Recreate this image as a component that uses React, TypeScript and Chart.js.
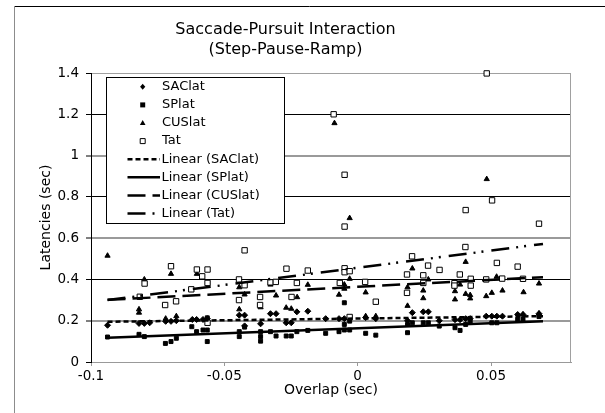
import { useEffect, useRef } from 'react';
import { Chart, registerables } from 'chart.js';

Chart.register(...registerables);

const FONT = 'DejaVu Sans';
const TITLE_LINES = ['Saccade-Pursuit Interaction', '(Step-Pause-Ramp)'];
const X_TITLE = 'Overlap (sec)';
const Y_TITLE = 'Latencies (sec)';
const SERIES_NAMES = ['SAClat', 'SPlat', 'CUSlat', 'Tat'];

const X_MIN = -0.1;
const X_MAX = 0.08;
const X_STEP = 0.05;
const Y_MIN = 0;
const Y_MAX = 1.4;
const Y_STEP = 0.2;

// [overlap, latency]
const SACLAT: [number, number][] = [
  [-0.0938, 0.178], [-0.082, 0.187], [-0.08, 0.187], [-0.078, 0.19], [-0.072, 0.197], [-0.07, 0.197],
  [-0.068, 0.2], [-0.062, 0.206], [-0.0604, 0.206], [-0.058, 0.206], [-0.0564, 0.21], [-0.0444, 0.227],
  [-0.0424, 0.227], [-0.0424, 0.175], [-0.0364, 0.185], [-0.0327, 0.234], [-0.0306, 0.234], [-0.0268, 0.19],
  [-0.0249, 0.19], [-0.0228, 0.243], [-0.0187, 0.246], [-0.012, 0.21], [-0.007, 0.21], [-0.005, 0.21],
  [0.003, 0.215], [0.0068, 0.21], [0.0187, 0.2], [0.0205, 0.239], [0.0246, 0.243], [0.0265, 0.243],
  [0.0306, 0.2], [0.0365, 0.205], [0.0384, 0.205], [0.0405, 0.21], [0.0422, 0.21], [0.0482, 0.222],
  [0.0503, 0.222], [0.0522, 0.222], [0.0543, 0.222], [0.06, 0.23], [0.062, 0.23], [0.068, 0.234],
];

const SPLAT: [number, number][] = [
  [-0.0938, 0.121], [-0.082, 0.134], [-0.08, 0.123], [-0.0721, 0.09], [-0.07, 0.099], [-0.068, 0.115],
  [-0.0622, 0.171], [-0.0604, 0.147], [-0.058, 0.155], [-0.0564, 0.155], [-0.0564, 0.099], [-0.0564, 0.214],
  [-0.0444, 0.147], [-0.0444, 0.123], [-0.0424, 0.169], [-0.0364, 0.147], [-0.0364, 0.123], [-0.0364, 0.101],
  [-0.0327, 0.147], [-0.0306, 0.126], [-0.0268, 0.126], [-0.0249, 0.126], [-0.0228, 0.147], [-0.0187, 0.153],
  [-0.012, 0.139], [-0.007, 0.147], [-0.005, 0.155], [-0.003, 0.155], [-0.005, 0.182], [-0.003, 0.198],
  [-0.005, 0.287], [0.003, 0.139], [0.0068, 0.13], [0.0187, 0.182], [0.0187, 0.142], [0.0205, 0.19],
  [0.0246, 0.19], [0.0265, 0.19], [0.0306, 0.174], [0.0365, 0.166], [0.0384, 0.153], [0.0405, 0.182],
  [0.0422, 0.195], [0.0503, 0.19], [0.0522, 0.19], [0.06, 0.206], [0.062, 0.206], [0.068, 0.22],
];

const CUSLAT: [number, number][] = [
  [-0.0938, 0.515], [-0.082, 0.255], [-0.082, 0.239], [-0.08, 0.4], [-0.072, 0.21], [-0.07, 0.427],
  [-0.068, 0.222], [-0.0603, 0.427], [-0.0444, 0.362], [-0.0444, 0.255], [-0.0424, 0.327], [-0.0364, 0.265],
  [-0.0327, 0.375], [-0.0306, 0.322], [-0.0268, 0.263], [-0.0249, 0.258], [-0.0227, 0.314], [-0.0187, 0.374],
  [-0.0087, 1.157], [-0.007, 0.326], [-0.005, 0.375], [-0.005, 0.355], [-0.003, 0.403], [-0.003, 0.697],
  [0.003, 0.337], [0.003, 0.222], [0.0068, 0.222], [0.0187, 0.362], [0.0187, 0.272], [0.0205, 0.453],
  [0.0246, 0.346], [0.0246, 0.309], [0.0265, 0.4], [0.0365, 0.343], [0.0365, 0.303], [0.0384, 0.375],
  [0.0405, 0.485], [0.0405, 0.33], [0.0422, 0.324], [0.0422, 0.308], [0.0482, 0.319], [0.0484, 0.886],
  [0.0503, 0.335], [0.0521, 0.413], [0.0543, 0.346], [0.0622, 0.338], [0.062, 0.23], [0.068, 0.38],
  [0.068, 0.235],
];

const TAT: [number, number][] = [
  [-0.0817, 0.316], [-0.0799, 0.38], [-0.0722, 0.276], [-0.07, 0.464], [-0.0681, 0.294], [-0.0624, 0.352],
  [-0.0603, 0.448], [-0.0583, 0.415], [-0.0563, 0.448], [-0.0563, 0.383], [-0.0563, 0.19], [-0.0445, 0.4],
  [-0.0445, 0.3], [-0.0424, 0.541], [-0.0424, 0.372], [-0.0366, 0.315], [-0.0366, 0.276], [-0.0327, 0.386],
  [-0.0307, 0.388], [-0.0267, 0.452], [-0.0248, 0.315], [-0.0228, 0.383], [-0.0187, 0.443], [-0.009, 1.2],
  [-0.0067, 0.383], [-0.0049, 0.907], [-0.0049, 0.656], [-0.0049, 0.454], [-0.0049, 0.435], [-0.003, 0.44],
  [-0.003, 0.218], [0.0028, 0.388], [0.0068, 0.292], [0.0185, 0.424], [0.0185, 0.335], [0.0204, 0.512],
  [0.0246, 0.42], [0.0246, 0.383], [0.0264, 0.467], [0.0307, 0.446], [0.0363, 0.382], [0.0363, 0.37],
  [0.0383, 0.424], [0.0404, 0.557], [0.0405, 0.736], [0.0424, 0.403], [0.0424, 0.37], [0.0482, 0.4],
  [0.0484, 1.398], [0.0504, 0.783], [0.0522, 0.48], [0.0542, 0.404], [0.06, 0.462], [0.062, 0.403],
  [0.068, 0.67],
];

// Linear trendlines: value at the first and last overlap
const TREND_X = [-0.0938, 0.0695];
const SACLAT_TREND = [0.195, 0.222];
const SPLAT_TREND = [0.118, 0.198];
const CUSLAT_TREND = [0.301, 0.411];
const TAT_TREND = [0.3, 0.572];

const TREND_DASHES: number[][] = [[5, 3], [], [18, 7], [18, 7, 2, 6, 2, 8]];

const fmt = (v: number) => String(Number(Number(v).toFixed(3)));

function drawMarker(ctx: CanvasRenderingContext2D, kind: string, x: number, y: number) {
  ctx.save();
  ctx.fillStyle = '#000';
  ctx.strokeStyle = '#000';
  ctx.lineWidth = 1;
  ctx.beginPath();
  if (kind === 'diamond') {
    ctx.moveTo(x, y - 3);
    ctx.lineTo(x + 2.6, y);
    ctx.lineTo(x, y + 3);
    ctx.lineTo(x - 2.6, y);
    ctx.closePath();
    ctx.fill();
  } else if (kind === 'square') {
    ctx.rect(x - 2.5, y - 2.5, 5, 5);
    ctx.fill();
  } else if (kind === 'triangle') {
    ctx.moveTo(x, y - 3);
    ctx.lineTo(x + 2.8, y + 2);
    ctx.lineTo(x - 2.8, y + 2);
    ctx.closePath();
    ctx.fill();
  } else {
    ctx.fillStyle = '#fff';
    ctx.rect(x - 2.5, y - 2.5, 5, 5);
    ctx.fill();
    ctx.stroke();
  }
  ctx.restore();
}

const framePlugin = {
  id: 'frame',
  beforeDraw(chart: any) {
    const ctx = chart.ctx as CanvasRenderingContext2D;
    ctx.save();
    ctx.fillStyle = '#fff';
    ctx.fillRect(0, 0, chart.width, chart.height);
    ctx.lineWidth = 1;
    ctx.strokeStyle = '#000';
    ctx.beginPath();
    ctx.moveTo(14, 6.5);
    ctx.lineTo(chart.width, 6.5);
    ctx.stroke();
    ctx.strokeStyle = '#8c8c8c';
    ctx.beginPath();
    ctx.moveTo(14.5, 6);
    ctx.lineTo(14.5, chart.height);
    ctx.stroke();
    ctx.restore();
  },
  afterDraw(chart: any) {
    const ctx = chart.ctx as CanvasRenderingContext2D;
    const a = chart.chartArea;
    ctx.save();
    // plot-area right edge
    ctx.strokeStyle = '#a0a0a0';
    ctx.lineWidth = 1;
    ctx.beginPath();
    ctx.moveTo(a.right - 0.5, a.top);
    ctx.lineTo(a.right - 0.5, a.bottom);
    ctx.stroke();

    // boxed legend
    const lx = 106.5, ly = 77.5, lw = 178, lh = 146;
    ctx.fillStyle = '#fff';
    ctx.fillRect(lx, ly, lw, lh);
    ctx.strokeStyle = '#000';
    ctx.strokeRect(lx, ly, lw, lh);
    const markers = ['diamond', 'square', 'triangle', 'hollow'];
    const rowH = 18.1;
    const y0 = 86.8;
    ctx.font = `13px "${FONT}"`;
    ctx.textBaseline = 'middle';
    ctx.textAlign = 'left';
    ctx.fillStyle = '#000';
    SERIES_NAMES.forEach((name, i) => {
      const y = y0 + i * rowH;
      drawMarker(ctx, markers[i], 142.7, y);
      ctx.fillStyle = '#000';
      ctx.fillText(name, 162, y);
    });
    SERIES_NAMES.forEach((name, i) => {
      const y = y0 + (i + 4) * rowH;
      ctx.save();
      ctx.lineWidth = 2.5;
      ctx.strokeStyle = '#000';
      ctx.setLineDash(TREND_DASHES[i]);
      ctx.beginPath();
      ctx.moveTo(127.5, y);
      ctx.lineTo(160, y);
      ctx.stroke();
      ctx.restore();
      ctx.fillStyle = '#000';
      ctx.fillText(`Linear (${name})`, 161.5, y);
    });
    ctx.restore();
  },
};

const pts = (arr: [number, number][]) => arr.map(([x, y]) => ({ x, y }));
const trend = (ys: number[]) => TREND_X.map((x, i) => ({ x, y: ys[i] }));

export default function App() {
  const ref = useRef<HTMLCanvasElement | null>(null);

  useEffect(() => {
    if (!ref.current) return;
    document.body.style.margin = '0';
    Chart.defaults.font.family = FONT;
    Chart.defaults.color = '#000';

    const trendSets = [SACLAT_TREND, SPLAT_TREND, CUSLAT_TREND, TAT_TREND].map((ys, i) => ({
      label: `Linear (${SERIES_NAMES[i]})`,
      data: trend(ys),
      showLine: true,
      pointRadius: 0,
      borderColor: '#000',
      backgroundColor: '#000',
      borderWidth: 2.5,
      borderDash: TREND_DASHES[i],
      borderCapStyle: 'butt',
      fill: false,
      order: 1 + i,
    }));

    const chart = new Chart(ref.current, {
      type: 'scatter',
      data: {
        datasets: [
          {
            label: SERIES_NAMES[0], data: pts(SACLAT), pointStyle: 'rectRot', pointRadius: 3,
            backgroundColor: '#000', borderColor: '#000', borderWidth: 1, order: 9, clip: false,
          },
          {
            label: SERIES_NAMES[1], data: pts(SPLAT), pointStyle: 'rect', pointRadius: 2.8,
            backgroundColor: '#000', borderColor: '#000', borderWidth: 1, order: 8, clip: false,
          },
          {
            label: SERIES_NAMES[2], data: pts(CUSLAT), pointStyle: 'triangle', pointRadius: 3,
            backgroundColor: '#000', borderColor: '#000', borderWidth: 1, order: 7, clip: false,
          },
          {
            label: SERIES_NAMES[3], data: pts(TAT), pointStyle: 'rect', pointRadius: 3.8,
            backgroundColor: '#fff', borderColor: '#000', borderWidth: 1, order: 6, clip: false,
          },
          ...trendSets,
        ] as any,
      },
      options: {
        responsive: false,
        animation: false,
        devicePixelRatio: 1,
        layout: { padding: { left: 0, right: 34, top: 0, bottom: 0 } },
        plugins: {
          legend: { display: false },
          tooltip: { enabled: false },
          title: {
            display: true,
            text: TITLE_LINES,
            color: '#000',
            font: { family: FONT, size: 16, weight: 'normal', lineHeight: 1.25 },
            padding: { top: 20, bottom: 13 },
          },
        },
        scales: {
          x: {
            type: 'linear',
            min: X_MIN,
            max: X_MAX,
            afterFit: (s: any) => { s.height = 51; },
            ticks: {
              stepSize: X_STEP,
              includeBounds: false,
              padding: 2,
              color: '#000',
              font: { family: FONT, size: 13.5 },
              callback: (v: any) => fmt(v),
              maxRotation: 0,
            },
            grid: { drawOnChartArea: false, drawTicks: true, tickLength: 4, tickColor: '#999', color: '#999' },
            border: { color: '#999', width: 1 },
            title: {
              display: true,
              text: X_TITLE,
              color: '#000',
              font: { family: FONT, size: 14 },
              padding: { top: 0, bottom: 14 },
            },
          },
          y: {
            type: 'linear',
            min: Y_MIN,
            max: Y_MAX,
            afterFit: (s: any) => { s.width = 91; },
            ticks: {
              stepSize: Y_STEP,
              padding: 7,
              color: '#000',
              font: { family: FONT, size: 13.5 },
              callback: (v: any) => fmt(v),
            },
            grid: {
              drawTicks: true,
              tickLength: 5,
              tickColor: '#000',
              tickWidth: 1,
              color: (c: any) => {
                const v = c.tick ? c.tick.value : 0;
                if (Math.abs(v) < 1e-9) return 'rgba(0,0,0,0)';
                if (Math.abs(v - Y_MAX) < 1e-9) return '#a0a0a0';
                const k = Math.round(v / Y_STEP);
                return k % 2 === 1 ? '#9a9a9a' : '#000';
              },
              lineWidth: (c: any) => {
                const v = c.tick ? c.tick.value : 0;
                const k = Math.round(v / Y_STEP);
                if (Math.abs(v - Y_MAX) < 1e-9) return 1;
                return k % 2 === 1 ? 2 : 1;
              },
            },
            border: { color: '#000', width: 1 },
            title: {
              display: true,
              text: Y_TITLE,
              color: '#000',
              font: { family: FONT, size: 14 },
              padding: { top: 37.6, bottom: 0 },
            },
          },
        },
      },
      plugins: [framePlugin],
    } as any);

    return () => chart.destroy();
  }, []);

  return (
    <div style={{ position: 'absolute', left: 0, top: 0, width: 605, height: 413 }}>
      <canvas ref={ref} width={605} height={413} style={{ display: 'block' }} />
    </div>
  );
}
